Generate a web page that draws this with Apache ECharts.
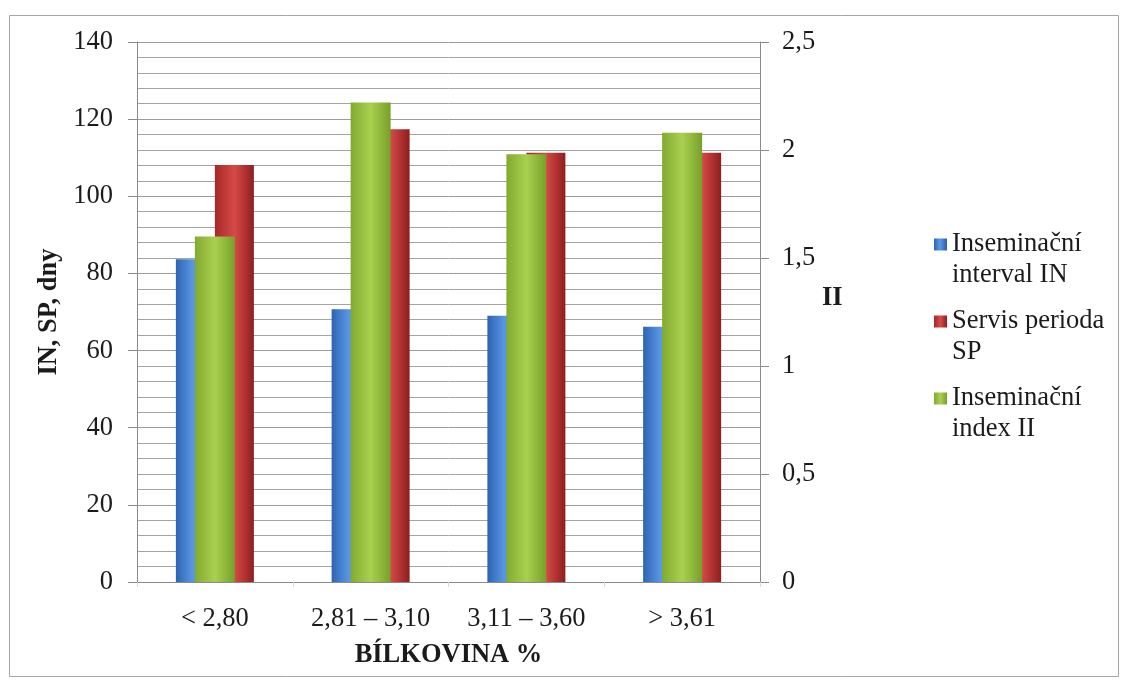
<!DOCTYPE html>
<html>
<head>
<meta charset="utf-8">
<script src="https://cdn.jsdelivr.net/npm/echarts@6/dist/echarts.min.js"></script>
<style>
  html, body { margin: 0; padding: 0; background: #fff; }
  #chart { width: 1129px; height: 688px; }
</style>
</head>
<body>
<div id="chart"></div>
<script>
// Protein content classes and the reproduction indicators per class
const categories = ['< 2,80', '2,81 – 3,10', '3,11 – 3,60', '> 3,61'];
const intervalIN = [83.7, 70.7, 69.0, 66.2];   // days
const servisSP = [108.1, 117.4, 111.3, 111.3]; // days
const indexII = [1.60, 2.22, 1.98, 2.08];      // index (right axis)
const leftTicks = [0, 140, 20];
const rightTicks = [0, 2.5, 0.5];
const seriesNames = ['Inseminační interval IN', 'Servis perioda SP', 'Inseminační index II'];

const FONT = '"Liberation Serif", "Times New Roman", serif';
const TXT = '#1b1b1b';
const FS = 26.5;

function hGrad(stops) {
  return {
    type: 'linear', x: 0, y: 0, x2: 1, y2: 0,
    colorStops: stops.map(s => ({ offset: s[0], color: s[1] }))
  };
}
const blue = hGrad([[0, '#2d64b2'], [0.45, '#5a98e6'], [1, '#2b5da6']]);
const red = hGrad([[0, '#a52828'], [0.5, '#d74a48'], [1, '#8e1e1e']]);
const green = hGrad([[0, '#82aa30'], [0.5, '#a9d04e'], [1, '#78a02a']]);

// Two-line legend entries; the leading blank line keeps the marker beside the first line
const legendLabels = {
  'Inseminační interval IN': ' \nInseminační\ninterval IN',
  'Servis perioda SP': ' \nServis perioda\nSP',
  'Inseminační index II': ' \nInseminační\nindex II'
};

const chart = echarts.init(document.getElementById('chart'), null, { renderer: 'canvas' });

chart.setOption({
  backgroundColor: '#fff',
  animation: false,
  textStyle: { fontFamily: FONT, color: TXT },
  graphic: [{
    type: 'rect',
    shape: { x: 9.5, y: 15.5, width: 1109, height: 661 },
    style: { fill: 'none', stroke: '#a6a6a6', lineWidth: 1 },
    silent: true, z: -10
  }],
  grid: { left: 137, right: 369, top: 42, bottom: 106, containLabel: false },
  legend: {
    orient: 'vertical',
    left: 934,
    top: 198,
    padding: 0,
    itemWidth: 13,
    itemHeight: 12,
    itemGap: -16,
    icon: 'rect',
    data: seriesNames,
    formatter: name => legendLabels[name],
    textStyle: { fontFamily: FONT, fontSize: FS, color: TXT, lineHeight: 31 }
  },
  xAxis: [{
    type: 'category',
    data: categories,
    position: 'bottom',
    axisLine: { lineStyle: { color: '#8a8a8a', width: 1 } },
    axisTick: { show: true, alignWithLabel: false, length: 5, lineStyle: { color: '#d8d8d8' } },
    axisLabel: { fontFamily: FONT, fontSize: FS, color: TXT, margin: 24 },
    name: 'BÍLKOVINA %',
    nameLocation: 'middle',
    nameGap: 60,
    nameTextStyle: { fontFamily: FONT, fontSize: FS, fontWeight: 'bold', color: TXT }
  }, {
    type: 'category',
    data: categories,
    show: false
  }],
  yAxis: [{
    type: 'value',
    min: leftTicks[0], max: leftTicks[1], interval: leftTicks[2],
    position: 'left',
    axisLine: { show: true, lineStyle: { color: '#8a8a8a', width: 1 } },
    axisTick: { show: true, length: 9, lineStyle: { color: '#8a8a8a' } },
    axisLabel: { fontFamily: FONT, fontSize: FS, color: TXT, margin: 24 },
    splitLine: { show: true, lineStyle: { color: '#9c9c9c', width: 1 } },
    minorTick: { show: false, splitNumber: 5 },
    minorSplitLine: { show: true, lineStyle: { color: '#a4a4a4', width: 1 } },
    name: 'IN, SP, dny',
    nameLocation: 'middle',
    nameRotate: 90,
    nameGap: 74,
    nameTextStyle: { fontFamily: FONT, fontSize: FS, fontWeight: 'bold', color: TXT }
  }, {
    type: 'value',
    min: rightTicks[0], max: rightTicks[1], interval: rightTicks[2],
    position: 'right',
    axisLine: { show: true, lineStyle: { color: '#8a8a8a', width: 1 } },
    axisTick: { show: true, length: 9, lineStyle: { color: '#8a8a8a' } },
    axisLabel: {
      fontFamily: FONT, fontSize: FS, color: TXT, margin: 22,
      formatter: v => String(v).replace('.', ',')
    },
    splitLine: { show: false },
    // trailing blank line lifts the title slightly above the axis middle
    name: 'II\n ',
    nameLocation: 'middle',
    nameRotate: 0,
    nameGap: 62,
    nameTextStyle: {
      fontFamily: FONT, fontSize: FS, fontWeight: 'bold', color: TXT, lineHeight: 28
    }
  }],
  series: [{
    name: seriesNames[0],
    type: 'bar',
    xAxisIndex: 0, yAxisIndex: 0,
    data: intervalIN,
    barWidth: 39,
    barGap: '0%',
    itemStyle: { color: blue },
    z: 2
  }, {
    name: seriesNames[1],
    type: 'bar',
    xAxisIndex: 0, yAxisIndex: 0,
    data: servisSP,
    barWidth: 39,
    barGap: '0%',
    itemStyle: { color: red },
    z: 2
  }, {
    name: seriesNames[2],
    type: 'bar',
    xAxisIndex: 1, yAxisIndex: 1,
    data: indexII,
    barWidth: 40,
    itemStyle: { color: green },
    z: 4
  }]
});
</script>
</body>
</html>
